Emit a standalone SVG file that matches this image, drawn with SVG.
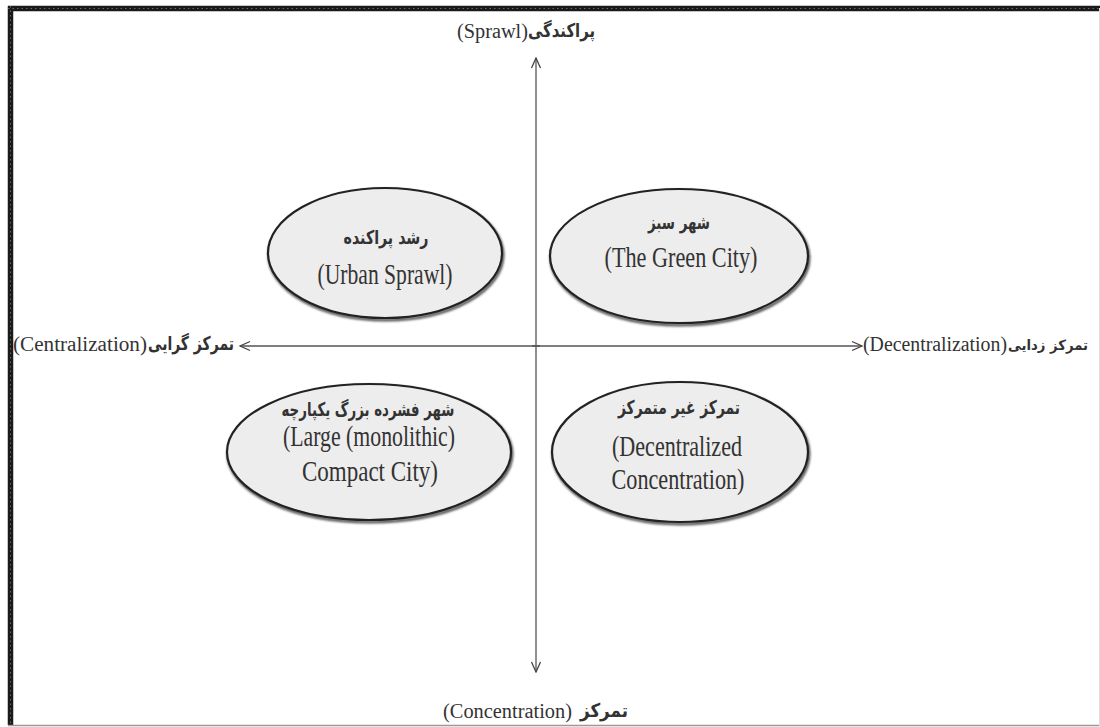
<svg xmlns="http://www.w3.org/2000/svg" width="1100" height="727" viewBox="0 0 1100 727">
<defs>
<marker id="arr" viewBox="0 0 12 12" refX="11" refY="6" markerWidth="12" markerHeight="12" markerUnits="userSpaceOnUse" orient="auto">
<path d="M1,1.5 L11,6 L1,10.5" fill="none" stroke="#444" stroke-width="1.3"/>
</marker>
<filter id="sh" x="-10%" y="-10%" width="120%" height="130%">
<feGaussianBlur stdDeviation="1.2"/>
</filter>
</defs>
<style>
.en{font-family:"Liberation Serif","Times New Roman",serif;fill:#333;text-anchor:middle}
.fa{font-family:"DejaVu Sans","Noto Sans",sans-serif;fill:#333;text-anchor:middle;font-weight:bold}
.ell{fill:#ededed;stroke:#222;stroke-width:2.2}
.shd{fill:none;stroke:#555;stroke-width:3;filter:url(#sh)}
.axis{stroke:#555;stroke-width:1.3;fill:none}
</style>
<rect x="0" y="0" width="1100" height="727" fill="#fff"/>
<g id="frame">
<line x1="8" y1="8.5" x2="1100" y2="8.5" stroke="#1a1a1a" stroke-width="5.5"/>
<line x1="10.5" y1="6" x2="10.5" y2="725" stroke="#1a1a1a" stroke-width="5.5"/>
<line x1="8" y1="8.5" x2="1100" y2="8.5" stroke="#666" stroke-width="1" stroke-dasharray="1.5 3"/>
<line x1="10.5" y1="6" x2="10.5" y2="725" stroke="#666" stroke-width="1" stroke-dasharray="1.5 3"/>
<line x1="8" y1="725.5" x2="1100" y2="725.5" stroke="#999" stroke-width="1.5"/>
<line x1="1099.5" y1="8" x2="1099.5" y2="726" stroke="#ddd" stroke-width="1"/>
</g>
<g id="connectors">
<line class="axis" x1="536" y1="346" x2="536" y2="58" marker-end="url(#arr)"/>
<line class="axis" x1="536" y1="346" x2="536" y2="672" marker-end="url(#arr)"/>
<line class="axis" x1="540" y1="346" x2="240" y2="346" marker-end="url(#arr)"/>
<line class="axis" x1="532" y1="346" x2="862" y2="346" marker-end="url(#arr)"/>
</g>
<g id="label-top">
<text class="en" x="492.5" y="38" font-size="20" textLength="71" lengthAdjust="spacingAndGlyphs">(Sprawl)</text>
<text class="fa" x="561.5" y="37" font-size="19" textLength="67" lengthAdjust="spacingAndGlyphs">پراکندگی</text>
</g>
<g id="label-left">
<text class="en" x="80" y="351" font-size="20" textLength="134" lengthAdjust="spacingAndGlyphs">(Centralization)</text>
<text class="fa" x="191" y="350" font-size="19" textLength="86" lengthAdjust="spacingAndGlyphs">تمرکز گرایی</text>
</g>
<g id="label-right">
<text class="en" x="935" y="351" font-size="20" textLength="144" lengthAdjust="spacingAndGlyphs">(Decentralization)</text>
<text class="fa" x="1048" y="350" font-size="14" textLength="80" lengthAdjust="spacingAndGlyphs">تمرکز زدایی</text>
</g>
<g id="label-bottom">
<text class="en" x="507.5" y="718" font-size="20" textLength="129" lengthAdjust="spacingAndGlyphs">(Concentration)</text>
<text class="fa" x="604" y="717" font-size="19" textLength="48" lengthAdjust="spacingAndGlyphs">تمرکز</text>
</g>
<g id="node-urban-sprawl">
<ellipse class="shd" cx="386" cy="255" rx="117" ry="65"/>
<ellipse class="ell" cx="385" cy="253" rx="117" ry="65"/>
<text class="fa" x="386" y="244" font-size="19" textLength="85" lengthAdjust="spacingAndGlyphs">رشد پراکنده</text>
<text class="en" x="385" y="284" font-size="30" textLength="135" lengthAdjust="spacingAndGlyphs">(Urban Sprawl)</text>
</g>
<g id="node-green-city">
<ellipse class="shd" cx="680" cy="258" rx="129" ry="67"/>
<ellipse class="ell" cx="679" cy="256" rx="129" ry="67"/>
<text class="fa" x="679" y="229" font-size="19" textLength="62" lengthAdjust="spacingAndGlyphs">شهر سبز</text>
<text class="en" x="681" y="267" font-size="30" textLength="153" lengthAdjust="spacingAndGlyphs">(The Green City)</text>
</g>
<g id="node-compact-city">
<ellipse class="shd" cx="370" cy="454" rx="142" ry="68"/>
<ellipse class="ell" cx="369" cy="452" rx="142" ry="68"/>
<text class="fa" x="368" y="416" font-size="19" textLength="173" lengthAdjust="spacingAndGlyphs">شهر فشرده بزرگ یکپارچه</text>
<text class="en" x="369" y="446" font-size="30" textLength="172" lengthAdjust="spacingAndGlyphs">(Large (monolithic)</text>
<text class="en" x="370" y="481" font-size="30" textLength="136" lengthAdjust="spacingAndGlyphs">Compact City)</text>
</g>
<g id="node-decentralized-concentration">
<ellipse class="shd" cx="681" cy="454" rx="128" ry="70"/>
<ellipse class="ell" cx="680" cy="452" rx="128" ry="70"/>
<text class="fa" x="679" y="414" font-size="19" textLength="122" lengthAdjust="spacingAndGlyphs">تمرکز غیر متمرکز</text>
<text class="en" x="677" y="456" font-size="30" textLength="130" lengthAdjust="spacingAndGlyphs">(Decentralized</text>
<text class="en" x="678" y="489" font-size="30" textLength="133" lengthAdjust="spacingAndGlyphs">Concentration)</text>
</g>
</svg>
